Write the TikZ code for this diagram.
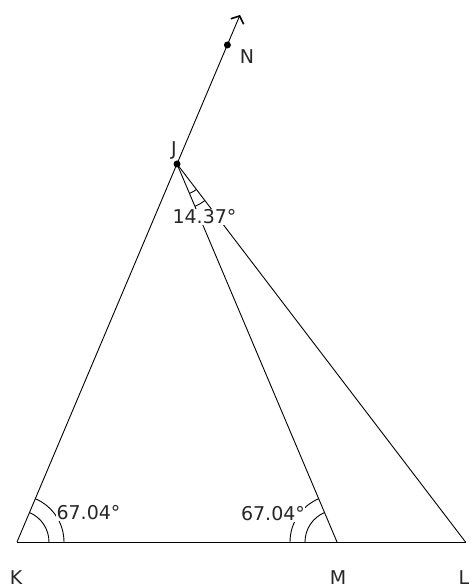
\documentclass[tikz,border=0pt]{standalone}
\usepackage{fontspec}
\setmainfont{DejaVu Sans}
\usetikzlibrary{arrows.meta,calc}
\begin{document}
\begin{tikzpicture}[x=1pt,y=1pt,
  seg/.style={line width=0.9pt,black},
  angarc/.style={line width=0.9pt,black},
  ptlabel/.style={font=\fontsize{19}{22}\selectfont,text=black!85,inner sep=0pt},
  anglabel/.style={font=\fontsize{19}{22}\selectfont,text=black!85,fill=white,inner sep=0.5pt},
  dot/.style={circle,fill=black,inner sep=0pt,minimum size=7pt}]
\useasboundingbox (0,0) rectangle (472,588);
\coordinate (K) at (17,46);
\coordinate (M) at (337,46);
\coordinate (L) at (465.5,46);
\coordinate (J) at (177,424);
\coordinate (N) at (227.4,543);
\coordinate (T) at (240,573);
% lines
\draw[seg] (K) -- (L);
\draw[seg] (J) -- (M);
\draw[seg] (J) -- (L);
\draw[seg,-{Straight Barb[length=6pt,width=14pt,line width=1.6pt]}] (K) -- (T);
% angle arcs
\draw[angarc] ($(K)+(32,0)$) arc[start angle=0,end angle=67.04,radius=32];
\draw[angarc] ($(K)+(47,0)$) arc[start angle=0,end angle=67.04,radius=47];
\draw[angarc] ($(M)+(-32,0)$) arc[start angle=180,end angle=112.96,radius=32];
\draw[angarc] ($(M)+(-47,0)$) arc[start angle=180,end angle=112.96,radius=47];
\draw[angarc] ($(J)+(292.96:32)$) arc[start angle=292.96,end angle=307.33,radius=32];
\draw[angarc] ($(J)+(292.96:46)$) arc[start angle=292.96,end angle=307.33,radius=46];
% angle labels
\node[anglabel] (aK) at (88.5,75) {67.04°};
\node[anglabel] (aM) at (273,74) {67.04°};
\node[anglabel] (aJ) at (204.5,371) {14.37°};
% points
\node[dot] (Jd) at (J) {};
\node[dot] (Nd) at (N) {};
% point labels
\node[ptlabel] (lK) at (16,10) {K};
\node[ptlabel] (lM) at (338,10) {M};
\node[ptlabel] (lL) at (464,10) {L};
\node[ptlabel] (lN) at (247,531) {N};
\node[ptlabel] (lJ) at (174,438) {J};
\end{tikzpicture}
\end{document}
